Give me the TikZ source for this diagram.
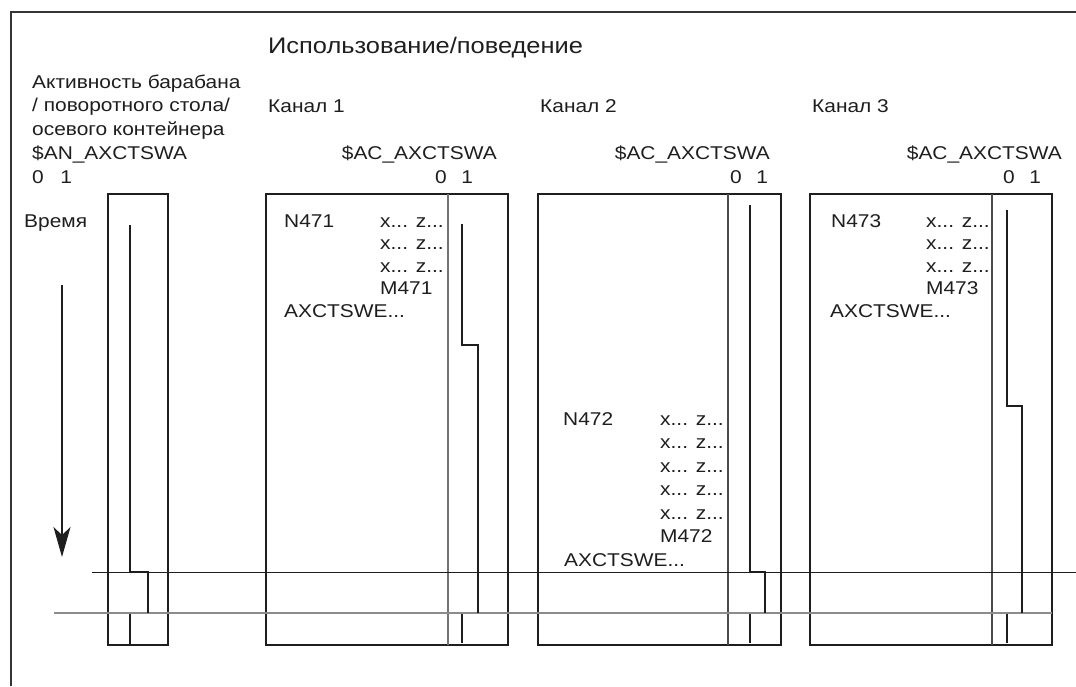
\documentclass[tikz,border=0pt]{standalone}
\usepackage{fontspec}
\setmainfont{Liberation Sans}[FakeStretch=1.13]
\usetikzlibrary{arrows.meta}
\definecolor{ink}{HTML}{1E1E1E}
\newcommand{\bodyfont}{\fontsize{18.5}{22}\selectfont}

\begin{document}
\begin{tikzpicture}[
  x=1pt, y=-1pt,
  every node/.style={inner sep=0pt, anchor=base west, font=\bodyfont, text=ink},
  frame/.style={draw=ink!90, line width=1.5pt},
  chbox/.style={draw=ink, line width=1.4pt},
  divider/.style={draw=ink!80, line width=1.2pt},
  signal/.style={draw=ink, line width=1.6pt},
  timeline/.style={draw=ink, line width=1pt},
  grayline/.style={draw=black!45, line width=1.3pt},
  timearrow/.style={-{Stealth[length=30pt, width=17pt, inset=8pt]}, line width=1.3pt, draw=ink, fill=ink},
]
  \useasboundingbox (0,0) rectangle (1076,686);
  \draw[frame] (11,686) -- (11,12) -- (1076,12);

  % Headings
  \node[font=\fontsize{22.5}{26}\selectfont] (title) at (268,53) {Использование/поведение};
  \foreach \t [count=\k from 0] in {Активность барабана, / поворотного стола/,
      осевого контейнера, \$AN\_AXCTSWA}
    \node (act\k) at (32,{88+23.7*\k}) {\t};
  \node (act01) at (32,183) {0\hspace{16.5pt}1};
  \node (time) at (24,227) {Время};

  \node (ch1) at (268,112) {Канал 1};
  \node (ch2) at (540,112) {Канал 2};
  \node (ch3) at (812,112) {Канал 3};
  \node[anchor=base east] (var1) at (497,159) {\$AC\_AXCTSWA};
  \node[anchor=base east] (var2) at (770,159) {\$AC\_AXCTSWA};
  \node[anchor=base east] (var3) at (1062,159) {\$AC\_AXCTSWA};
  \node (bit1) at (435,183) {0\hspace{14.5pt}1};
  \node (bit2) at (730,183) {0\hspace{14.5pt}1};
  \node (bit3) at (1003,183) {0\hspace{14.5pt}1};

  % Boxes
  \draw[chbox] (108,194) rectangle (168,645);
  \draw[chbox] (266,194) rectangle (508,645);
  \draw[chbox] (538,194) rectangle (781,645);
  \draw[chbox] (810,194) rectangle (1052,645);
  \draw[divider, draw=black!55] (448,194) -- (448,645);
  \draw[divider] (728,194) -- (728,645);
  \draw[divider] (992,194) -- (992,645);

  % Channel 1 program
  \node (n471) at (284,227) {N471};
  \foreach \k in {0,1,2}
    \node (xz1\k) at (380,{227+22.5*\k}) {x... z...};
  \node (m471) at (380,294.5) {M471};
  \node (sw1) at (284,317) {AXCTSWE...};

  % Channel 2 program
  \node (n472) at (563,425) {N472};
  \foreach \k in {0,...,4}
    \node (xz2\k) at (660,{425+23.5*\k}) {x... z...};
  \node (m472) at (660,542.5) {M472};
  \node (sw2) at (564,566) {AXCTSWE...};

  % Channel 3 program
  \node (n473) at (831,227) {N473};
  \foreach \k in {0,1,2}
    \node (xz3\k) at (926,{227+22.5*\k}) {x... z...};
  \node (m473) at (926,294.5) {M473};
  \node (sw3) at (830,317) {AXCTSWE...};

  % Time axis and marks
  \draw[timearrow] (62,285) -- (62,557);
  \draw[timeline] (92,572) -- (1076,572);
  \draw[grayline] (54,613) -- (1052,613);

  % Signals
  \draw[signal] (130,225) -- (130,572) -- (148,572) -- (148,613);
  \draw[signal] (130,614) -- (130,645);
  \draw[signal] (462,224) -- (462,345) -- (478,345) -- (478,613);
  \draw[signal] (462,614) -- (462,643);
  \draw[signal] (750,205) -- (750,572) -- (765,572) -- (765,613);
  \draw[signal] (750,614) -- (750,643);
  \draw[signal] (1007,210) -- (1007,406) -- (1022,406) -- (1022,613);
  \draw[signal] (1007,614) -- (1007,643);
\end{tikzpicture}
\end{document}
